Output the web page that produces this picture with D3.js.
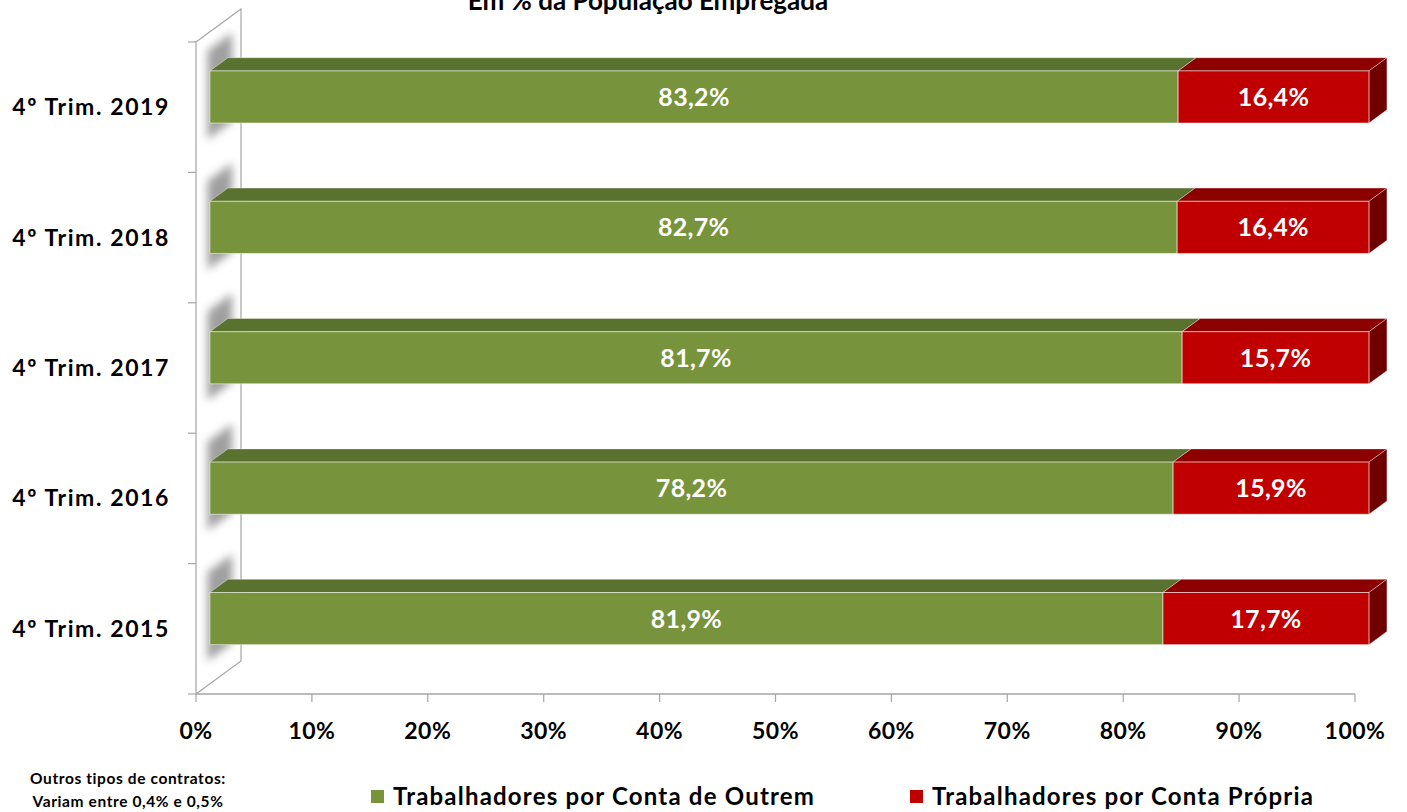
<!DOCTYPE html>
<html>
<head>
<meta charset="utf-8">
<script src="https://cdn.jsdelivr.net/npm/d3@7"></script>
<style>
  body { margin: 0; background: #fff; }
  svg text { font-family: Lato, "Open Sans", sans-serif; font-weight: bold; }
</style>
</head>
<body>
<div id="chart"></div>
<script>
var categories = ["4º Trim. 2019", "4º Trim. 2018", "4º Trim. 2017", "4º Trim. 2016", "4º Trim. 2015"];
var outrem  = [83.2, 82.7, 81.7, 78.2, 81.9];
var propria = [16.4, 16.4, 15.7, 15.9, 17.7];
var xTicks = [0, 10, 20, 30, 40, 50, 60, 70, 80, 90, 100];
var seriesNames = ["Trabalhadores por Conta de Outrem", "Trabalhadores por Conta Própria"];

var W = 1407, H = 812;
var margin = {top: 42, left: 196};
var width = 1159, height = 652;
// depth of the 3d box
var DX = 45, DY = -33;
var zFront = 0.31, zBack = 0.71;

var svg = d3.select("#chart").append("svg")
    .attr("width", W)
    .attr("height", H);

var defs = svg.append("defs");
defs.append("filter").attr("id", "blur")
    .attr("x", "-50%").attr("y", "-50%").attr("width", "200%").attr("height", "200%")
  .append("feGaussianBlur").attr("stdDeviation", 4);

var x = d3.scaleLinear().domain([0, 100]).range([0, width]);
var y = d3.scaleBand().domain(categories).range([0, height]);

var g = svg.append("g")
    .attr("transform", "translate(" + margin.left + "," + margin.top + ")");

function pt(px, py, z) {
  return [px + z * DX, py + z * DY];
}
function poly(pts) {
  return pts.map(function(p) { return p[0] + "," + p[1]; }).join(" ");
}

// left wall
var wall = [pt(0, 0, 0), pt(0, 0, 1), pt(0, height, 1), pt(0, height, 0)];
g.append("polygon")
    .attr("points", poly(wall))
    .attr("fill", "#fff")
    .attr("stroke", "#a6a6a6")
    .attr("stroke-width", 1.2);

defs.append("clipPath").attr("id", "wallclip")
  .append("polygon")
    .attr("points", poly(wall));

// shadows of bars on the wall
var shadowG = g.append("g").attr("clip-path", "url(#wallclip)");
categories.forEach(function(c) {
  var bh = y.bandwidth() * 0.4;
  var cy = y(c) + y.bandwidth() / 2;
  shadowG.append("polygon")
    .attr("points", poly([pt(2, cy - bh * 0.95, zFront - 0.1), pt(2, cy - bh * 0.95, zBack + 0.05),
                          pt(2, cy + bh * 0.75, zBack + 0.05), pt(2, cy + bh * 0.75, zFront - 0.1)]))
    .attr("fill", "#808080")
    .attr("opacity", 0.75)
    .attr("filter", "url(#blur)");
});

// y ticks
var yTickPos = categories.map(function(c) { return y(c); }).concat([height]);
g.selectAll(".ytick").data(yTickPos).enter().append("line")
    .attr("x1", -8).attr("x2", 0)
    .attr("y1", function(d) { return d; }).attr("y2", function(d) { return d; })
    .attr("stroke", "#a6a6a6").attr("stroke-width", 1.2);

// x axis
g.append("line")
    .attr("x1", 0).attr("x2", width)
    .attr("y1", height).attr("y2", height)
    .attr("stroke", "#a6a6a6").attr("stroke-width", 1.5);
g.selectAll(".xtick").data(xTicks).enter().append("line")
    .attr("x1", function(d) { return x(d); }).attr("x2", function(d) { return x(d); })
    .attr("y1", height).attr("y2", height + 8)
    .attr("stroke", "#a6a6a6").attr("stroke-width", 1.2);
g.selectAll(".xlabel").data(xTicks).enter().append("text")
    .attr("x", function(d) { return x(d); })
    .attr("y", height + 45)
    .attr("text-anchor", "middle")
    .style("font-size", "23px")
    .style("letter-spacing", "0.5px")
    .attr("fill", "#000")
    .text(function(d) { return d + "%"; });

// category labels
g.selectAll(".ylabel").data(categories).enter().append("text")
    .attr("x", -26)
    .attr("y", function(d) { return y(d) + y.bandwidth() / 2 + 8; })
    .attr("text-anchor", "end")
    .style("font-size", "23px")
    .style("letter-spacing", "1.6px")
    .attr("fill", "#000")
    .text(function(d) { return d; });

// bars
var colors = [
  {front: "#77933c", top: "#5a7230", side: "#4f6328"},
  {front: "#c00000", top: "#8c0000", side: "#700000"}
];
var fmt = function(v) { return v.toFixed(1).replace(".", ",") + "%"; };

categories.forEach(function(c, i) {
  var total = outrem[i] + propria[i];
  var segs = [
    {v0: 0, v1: outrem[i] / total * 100, val: outrem[i], col: colors[0]},
    {v0: outrem[i] / total * 100, v1: 100, val: propria[i], col: colors[1]}
  ];
  var bh = y.bandwidth() * 0.4;
  var cy = y(c) + y.bandwidth() / 2;
  var top = cy - bh / 2, bot = cy + bh / 2;
  var bg = g.append("g").attr("class", "bar");
  segs.forEach(function(s, j) {
    var x0 = x(s.v0), x1 = x(s.v1);
    // top face
    bg.append("polygon")
      .attr("points", poly([pt(x0, top, zFront), pt(x0, top, zBack), pt(x1, top, zBack), pt(x1, top, zFront)]))
      .attr("fill", s.col.top)
      .attr("stroke", "rgba(255,255,255,0.35)").attr("stroke-width", 1);
    if (j === segs.length - 1) {
      bg.append("polygon")
        .attr("points", poly([pt(x1, top, zFront), pt(x1, top, zBack), pt(x1, bot, zBack), pt(x1, bot, zFront)]))
        .attr("fill", s.col.side)
        .attr("stroke", "rgba(255,255,255,0.35)").attr("stroke-width", 1);
    }
    bg.append("polygon")
      .attr("points", poly([pt(x0, top, zFront), pt(x1, top, zFront), pt(x1, bot, zFront), pt(x0, bot, zFront)]))
      .attr("fill", s.col.front)
      .attr("stroke", "rgba(255,255,255,0.55)").attr("stroke-width", 1);
    var c0 = pt((x0 + x1) / 2, cy, zFront);
    bg.append("text")
      .attr("x", c0[0]).attr("y", c0[1] + 9)
      .attr("text-anchor", "middle")
      .attr("fill", "#fff")
      .style("font-size", "25px")
      .style("letter-spacing", "0.3px")
      .text(fmt(s.val));
  });
});

// title (cut at the top)
svg.append("text")
    .attr("x", 648).attr("y", 10)
    .attr("text-anchor", "middle")
    .style("font-size", "26px")
    .attr("fill", "#000")
    .text("Em % da População Empregada");

// legend
var legX = [371, 910];
seriesNames.forEach(function(n, i) {
  svg.append("rect")
    .attr("x", legX[i]).attr("y", 790)
    .attr("width", 13).attr("height", 13)
    .attr("fill", colors[i].front);
  svg.append("text")
    .attr("x", legX[i] + 22).attr("y", 805)
    .style("font-size", "24px")
    .style("letter-spacing", "1.2px")
    .attr("fill", "#000")
    .text(n);
});

// note
svg.append("text")
    .attr("x", 128).attr("y", 784)
    .attr("text-anchor", "middle")
    .style("font-size", "15.5px")
    .style("letter-spacing", "0.6px")
    .text("Outros tipos de contratos:");
svg.append("text")
    .attr("x", 128).attr("y", 807)
    .attr("text-anchor", "middle")
    .style("font-size", "15.5px")
    .style("letter-spacing", "0.6px")
    .text("Variam entre 0,4% e 0,5%");
</script>
</body>
</html>
